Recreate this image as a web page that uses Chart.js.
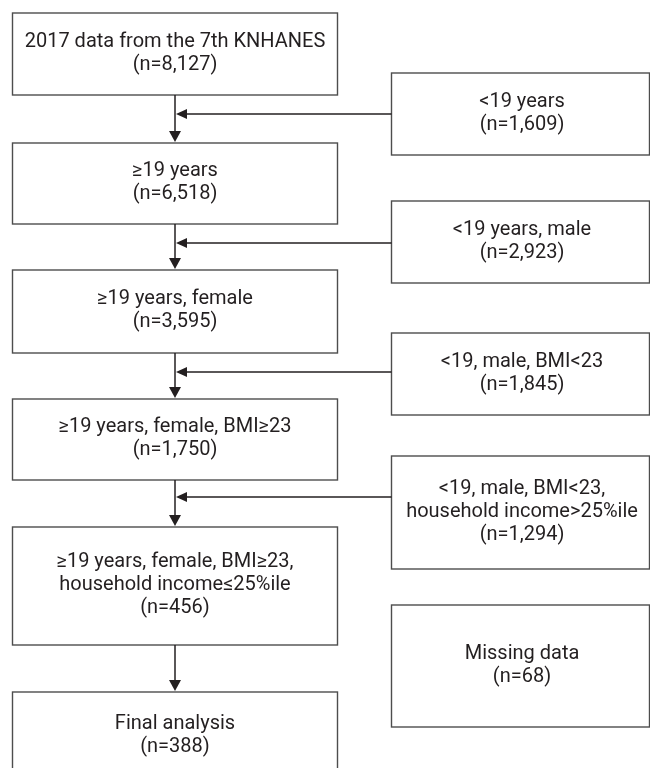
<!DOCTYPE html>
<html>
<head>
<meta charset="utf-8">
<script src="https://cdn.jsdelivr.net/npm/chart.js@4"></script>
<style>
  html, body { margin: 0; padding: 0; background: #fff; }
  #wrap { width: 650px; height: 768px; }
</style>
</head>
<body>
<div id="wrap"><canvas id="flowChart" width="650" height="768"></canvas></div>
<script>
// flow steps kept in the study, with their counts
const mainSteps = [
  '2017 data from the 7th KNHANES',
  '≥19 years',
  '≥19 years, female',
  '≥19 years, female, BMI≥23',
  '≥19 years, female, BMI≥23,\nhousehold income≤25%ile',
  'Final analysis'
];
const mainCounts = [8127, 6518, 3595, 1750, 456, 388];

// excluded groups on the right
const excludedSteps = [
  '<19 years',
  '<19 years, male',
  '<19, male, BMI<23',
  '<19, male, BMI<23,\nhousehold income>25%ile',
  'Missing data'
];
const excludedCounts = [1609, 2923, 1845, 1294, 68];

// layout in scale units (the scales map 1:1 onto the canvas)
const leftCol = { x0: 12.5, x1: 337.5, cx: 175 };
const rightCol = { x0: 391.5, x1: 649.5, cx: 522 };
const leftRows = [[13, 95], [143, 224], [270, 353], [399, 480], [527, 645], [692, 780]];
const rightRows = [[73, 155], [201, 283], [333, 415], [456, 569], [605, 727]];
const arrowRows = [114, 243, 372, 497];

const fmt = n => '(n=' + n.toLocaleString('en-US') + ')';

function drawBox(ctx, xs, ys, x0, x1, y0, y1, lines, cx) {
  const px0 = xs.getPixelForValue(x0), px1 = xs.getPixelForValue(x1);
  const py0 = ys.getPixelForValue(y0), py1 = ys.getPixelForValue(y1);
  ctx.strokeStyle = '#4d4d4d';
  ctx.lineWidth = 1.4;
  ctx.strokeRect(px0, py0, px1 - px0, py1 - py0);

  ctx.fillStyle = '#231f20';
  ctx.font = '20px Roboto';
  ctx.textAlign = 'center';
  ctx.textBaseline = 'middle';
  const lh = 23;
  const mid = (py0 + py1) / 2 - 1;
  const start = mid - (lines.length - 1) * lh / 2;
  lines.forEach((t, i) => {
    ctx.fillText(t, xs.getPixelForValue(cx), start + i * lh);
  });
}

function arrowHead(ctx, x, y, dir) {
  ctx.beginPath();
  if (dir === 'down') {
    ctx.moveTo(x, y);
    ctx.lineTo(x - 6, y - 11);
    ctx.lineTo(x + 6, y - 11);
  } else {
    ctx.moveTo(x, y);
    ctx.lineTo(x + 11, y - 5);
    ctx.lineTo(x + 11, y + 5);
  }
  ctx.closePath();
  ctx.fill();
}

const flowPlugin = {
  id: 'flowPlugin',
  afterDatasetsDraw(chart) {
    const ctx = chart.ctx;
    const xs = chart.scales.x, ys = chart.scales.y;
    ctx.save();

    mainSteps.forEach((label, i) => {
      const lines = label.split('\n').concat([fmt(mainCounts[i])]);
      drawBox(ctx, xs, ys, leftCol.x0, leftCol.x1, leftRows[i][0], leftRows[i][1], lines, leftCol.cx);
    });
    excludedSteps.forEach((label, i) => {
      const lines = label.split('\n').concat([fmt(excludedCounts[i])]);
      drawBox(ctx, xs, ys, rightCol.x0, rightCol.x1, rightRows[i][0], rightRows[i][1], lines, rightCol.cx);
    });

    // vertical connectors with arrows
    ctx.strokeStyle = '#231f20';
    ctx.fillStyle = '#231f20';
    ctx.lineWidth = 1.5;
    const vx = xs.getPixelForValue(leftCol.cx);
    for (let i = 0; i < leftRows.length - 1; i++) {
      const yTop = ys.getPixelForValue(leftRows[i][1]);
      const yBot = ys.getPixelForValue(leftRows[i + 1][0]) - 1;
      ctx.beginPath();
      ctx.moveTo(vx, yTop);
      ctx.lineTo(vx, yBot - 8);
      ctx.stroke();
      arrowHead(ctx, vx, yBot, 'down');
    }

    // horizontal exclusion arrows
    arrowRows.forEach(y => {
      const py = ys.getPixelForValue(y);
      ctx.beginPath();
      ctx.moveTo(xs.getPixelForValue(rightCol.x0), py);
      ctx.lineTo(vx + 9, py);
      ctx.stroke();
      arrowHead(ctx, vx + 1, py, 'left');
    });

    ctx.restore();
  }
};

new Chart(document.getElementById('flowChart'), {
  type: 'scatter',
  data: { datasets: [{ data: [] }] },
  options: {
    responsive: false,
    animation: false,
    layout: { padding: 0 },
    plugins: { legend: { display: false }, tooltip: { enabled: false } },
    scales: {
      x: { type: 'linear', min: 0, max: 650, display: false },
      y: { type: 'linear', min: 0, max: 768, reverse: true, display: false }
    }
  },
  plugins: [flowPlugin]
});
</script>
</body>
</html>
